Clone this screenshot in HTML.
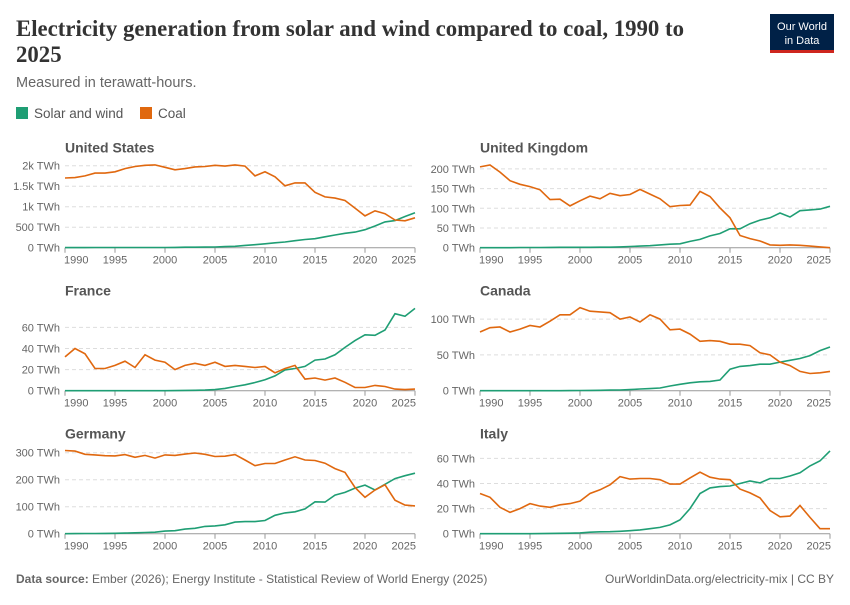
<!DOCTYPE html>
<html><head><meta charset="utf-8"><style>
body{margin:0;background:#fff;width:850px;height:600px;overflow:hidden;font-family:"Liberation Sans",sans-serif}
</style></head><body>
<svg id="s" width="850" height="600" xmlns="http://www.w3.org/2000/svg" font-family="Liberation Sans, sans-serif">
<text x="16" y="36" font-family="Liberation Serif, serif" font-size="22.8" font-weight="bold" fill="#333">Electricity generation from solar and wind compared to coal, 1990 to</text>
<text x="16" y="62" font-family="Liberation Serif, serif" font-size="22.8" font-weight="bold" fill="#333">2025</text>
<text x="16" y="87" font-size="14.5" fill="#666">Measured in terawatt-hours.</text>
<rect x="16" y="107" width="12" height="12" fill="#1f9e74"/><text x="34" y="118" font-size="13.5" fill="#555">Solar and wind</text>
<rect x="140" y="107" width="12" height="12" fill="#e0680f"/><text x="158" y="118" font-size="13.5" fill="#555">Coal</text>
<rect x="770" y="14" width="64" height="38" fill="#002147"/><rect x="770" y="50" width="64" height="3" fill="#ce261e"/>
<text x="802" y="30" font-size="11" fill="#fff" text-anchor="middle">Our World</text>
<text x="802" y="44" font-size="11" fill="#fff" text-anchor="middle">in Data</text>
<text x="16" y="583" font-size="12" fill="#666"><tspan font-weight="bold">Data source:</tspan> Ember (2026); Energy Institute - Statistical Review of World Energy (2025)</text>
<text x="834" y="583" font-size="12" fill="#666" text-anchor="end">OurWorldinData.org/electricity-mix | CC BY</text>
<g id="g"></g>
</svg>
<script>
const P=[
{t:"United States",x0:65,x1:415,z:247.7,ppu:20.5/500,ticks:[[0,"0 TWh"],[500,"500 TWh"],[1000,"1k TWh"],[1500,"1.5k TWh"],[2000,"2k TWh"]],
c:[1700,1710,1750,1820,1820,1850,1930,1980,2010,2020,1960,1900,1930,1970,1980,2010,1990,2020,1990,1750,1850,1730,1510,1580,1580,1350,1240,1210,1150,965,775,900,830,675,655,730],
s:[3,3,3,4,4,4,4,4,4,5,6,7,11,12,15,18,27,35,56,74,95,120,140,170,200,220,265,310,350,380,440,530,630,660,760,850]},
{t:"United Kingdom",x0:480,x1:830,z:247.7,ppu:19.7/50,ticks:[[0,"0 TWh"],[50,"50 TWh"],[100,"100 TWh"],[150,"150 TWh"],[200,"200 TWh"]],
c:[205,210,192,170,161,155,147,122,123,106,119,131,124,138,132,135,148,136,124,104,107,108,143,130,101,76,31,23,17,7,6,7,6,4,2,0],
s:[0,0,0,0,.5,.5,.5,.7,.9,.9,1,1,1.3,1.3,2,3,4,5,7,9,10,16,21,30,36,48,48,61,70,76,88,78,94,96,98,105]},
{t:"France",x0:65,x1:415,z:390.7,ppu:21.1/20,ticks:[[0,"0 TWh"],[20,"20 TWh"],[40,"40 TWh"],[60,"60 TWh"]],
c:[32,40,35,21,21,24,28,22,34,29,27,20,24,26,24,27,23,24,23,22,23,17,21,24,11,12,10,12,8,3,3,5,4,1.5,1,1.5],
s:[0,0,0,0,0,0,0,0,0,0,0,.1,.3,.4,.6,1,2.2,4,5.6,7.8,10.3,14,19.7,21,23,29,30,34,41,47.5,53,52.5,57.5,73,70.5,78]},
{t:"Canada",x0:480,x1:830,z:390.7,ppu:35.8/50,ticks:[[0,"0 TWh"],[50,"50 TWh"],[100,"100 TWh"]],
c:[82,88,89,82,86,91,89,97,106,106,116,111,110,109,100,103,96,106,100,85,86,79,69,70,69,65,65,63,53,50,40,35,27,24,25,27],
s:[0,0,0,0,0,0,0,0,0,.2,.3,.4,.6,.8,1,1.6,2.4,3,3.8,6.5,9,11,12.5,13,15,30,34,35,37,37,40,42.5,45,49,56,61]},
{t:"Germany",x0:65,x1:415,z:533.7,ppu:27/100,ticks:[[0,"0 TWh"],[100,"100 TWh"],[200,"200 TWh"],[300,"300 TWh"]],
c:[308,306,294,292,289,288,293,283,290,280,292,290,295,299,294,286,287,293,273,252,260,260,273,285,273,271,261,241,227,171,135,162,181,124,106,103],
s:[.1,.3,.6,.8,1,1.6,2.2,3.3,4.6,5.6,9.5,11,17,20,27,29,33,43,45,45,49,68,77,81,92,118,117,143,153,169,180,162,183,204,215,224]},
{t:"Italy",x0:480,x1:830,z:533.7,ppu:25.1/20,ticks:[[0,"0 TWh"],[20,"20 TWh"],[40,"40 TWh"],[60,"60 TWh"]],
c:[32,29,21,17,20,24,22,21,23,24,26,32,35,39,45.5,43.5,44,44,43,39.5,39.5,44.5,49,45,43.5,43,35.5,32.5,28.5,18.5,13.5,14,22.5,13,4,4],
s:[0,0,0,0,0,0,.1,.2,.3,.4,.6,1.2,1.5,1.6,1.9,2.4,3,4,5,7,11,20,32,36.5,37.5,38,40,42,40.5,44,44,46,48.5,54,58,66]}
];
let h="";
for(const p of P){
 const top=p.z-104;
 h+=`<text x="${p.x0}" y="${top+9}" font-size="14" font-weight="bold" fill="#555">${p.t}</text>`;
 for(const [v,l] of p.ticks){const y=p.z-v*p.ppu;
  if(v>0)h+=`<line x1="${p.x0}" x2="${p.x1}" y1="${y}" y2="${y}" stroke="#ddd" stroke-dasharray="4,3"/>`;
  h+=`<text x="${p.x0-5}" y="${y+4}" font-size="11" fill="#666" text-anchor="end">${l}</text>`;}
 h+=`<line x1="${p.x0}" x2="${p.x1}" y1="${p.z}" y2="${p.z}" stroke="#999"/>`;
 const sc=(p.x1-p.x0)/35;
 for(let yr=1990;yr<=2025;yr+=5){const x=p.x0+(yr-1990)*sc;
  h+=`<line x1="${x}" x2="${x}" y1="${p.z}" y2="${p.z+5}" stroke="#999"/>`;
  const a=yr==1990?"start":yr==2025?"end":"middle";const xx=yr==1990?x-1:yr==2025?x+1:x;
  h+=`<text x="${xx}" y="${p.z+16}" font-size="11" fill="#666" text-anchor="${a}">${yr}</text>`;}
 const pts=a=>a.map((v,i)=>(p.x0+i*sc).toFixed(1)+","+(p.z-v*p.ppu).toFixed(1)).join(" ");
 h+=`<polyline points="${pts(p.s)}" fill="none" stroke="#1f9e74" stroke-width="1.6"/>`;
 h+=`<polyline points="${pts(p.c)}" fill="none" stroke="#e0680f" stroke-width="1.6"/>`;
}
document.getElementById("g").innerHTML=h;
</script>
</body></html>
